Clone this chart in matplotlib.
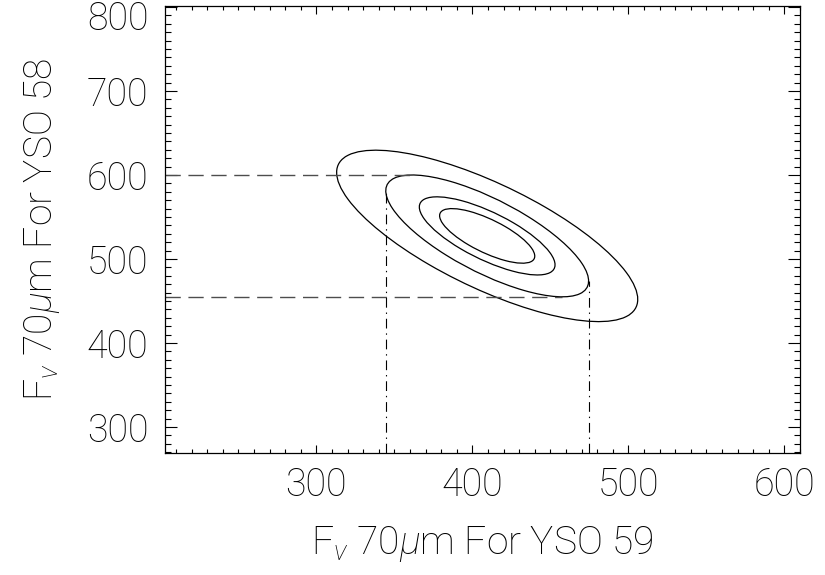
import numpy as np
import matplotlib
matplotlib.use('Agg')
from matplotlib import pyplot as plt
from matplotlib.patches import Ellipse
from matplotlib.ticker import MultipleLocator, FuncFormatter

plt.rcParams['font.family'] = ['Roboto', 'DejaVu Sans']
plt.rcParams['font.weight'] = 'light'
plt.rcParams['axes.labelweight'] = 'light'
plt.rcParams['mathtext.fontset'] = 'custom'
plt.rcParams['mathtext.rm'] = 'Roboto:light'
plt.rcParams['mathtext.it'] = 'Roboto:italic:light'
plt.rcParams['lines.scale_dashes'] = False

# joint flux likelihood: centre, correlation and contour half-extents
center = (409.5, 527.5)
rho = -0.74
half_x = [30.5, 43.5, 65.0, 96.5]
half_y = [32.5, 46.5, 72.5, 102.0]
err_level = 2  # contour used for the error bars

x_range = (203, 610)
y_range = (269, 801)
y_top_label = 800

figure = plt.figure(figsize=(8.25, 5.75), dpi=100)
axes = figure.add_axes([0.2, 0.212, 0.7697, 0.7774])

for ax_, ay_ in zip(half_x, half_y):
    cov = np.array([[ax_**2, rho * ax_ * ay_], [rho * ax_ * ay_, ay_**2]])
    vals, vecs = np.linalg.eigh(cov)
    angle = np.degrees(np.arctan2(vecs[1, 1], vecs[0, 1]))
    axes.add_patch(Ellipse(center, 2 * np.sqrt(vals[1]), 2 * np.sqrt(vals[0]),
                           angle=angle, fill=False, color='black', lw=0.9))

# error bars from the chosen contour
x0, y0 = center
ex, ey = half_x[err_level], half_y[err_level]
dash = (11, 5.5)
dashdot = (7, 3.5, 1, 3.5)
axes.plot([x_range[0], x0 + rho * ex], [y0 + ey, y0 + ey], color='0.3', lw=1.0, dashes=dash)
axes.plot([x_range[0], x0 - rho * ex], [y0 - ey, y0 - ey], color='0.3', lw=1.0, dashes=dash)
axes.plot([x0 - ex, x0 - ex], [y_range[0], y0 - rho * ey], color='black', lw=0.8, dashes=dashdot)
axes.plot([x0 + ex, x0 + ex], [y_range[0], y0 + rho * ey], color='black', lw=0.8, dashes=dashdot)

axes.set_xlim(x_range)
axes.set_ylim(y_range)
axes.xaxis.set_major_locator(MultipleLocator(100))
axes.xaxis.set_minor_locator(MultipleLocator(10))
axes.yaxis.set_major_locator(MultipleLocator(100))
axes.yaxis.set_minor_locator(MultipleLocator(10))
# the top y label is drawn separately, a little lower
axes.yaxis.set_major_formatter(FuncFormatter(lambda v, p: '' if v >= y_top_label else f'{v:.0f}'))

axes.tick_params(which='both', direction='in', top=True, right=True, width=0.8, colors='black')
axes.tick_params(axis='x', which='major', length=6, pad=10, labelsize=27)
axes.tick_params(axis='x', which='minor', length=3)
axes.tick_params(axis='y', which='major', length=8.6, pad=12, labelsize=27)
axes.tick_params(axis='y', which='minor', length=4.3)
for spine in axes.spines.values():
    spine.set_linewidth(0.9)

axes.annotate(f'{y_top_label}', xy=(0, y_top_label), xycoords=('axes fraction', 'data'),
              xytext=(-12, -9), textcoords='offset points', ha='right', va='center',
              fontsize=27, annotation_clip=False)

axes.set_xlabel(r'F$_\nu$ 70$\mu$m For YSO 59', fontsize=28, labelpad=14)
axes.set_ylabel(r'F$_\nu$ 70$\mu$m For YSO 58', fontsize=28, labelpad=18)

figure.savefig('out.png', dpi=100)
